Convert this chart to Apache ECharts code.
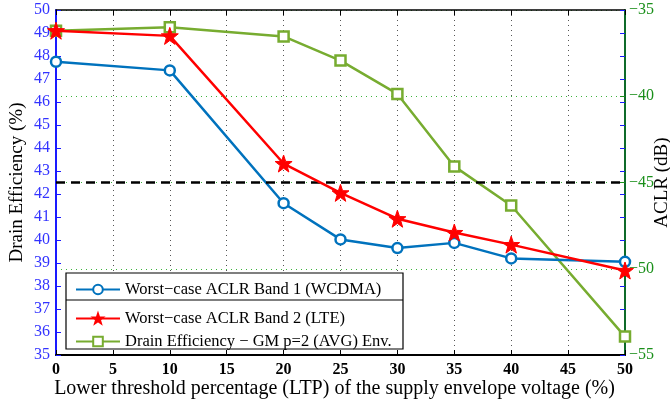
<!DOCTYPE html>
<html>
<head>
<meta charset="utf-8">
<script src="https://cdn.jsdelivr.net/npm/echarts@6/dist/echarts.min.js"></script>
<style>
  html, body { margin: 0; padding: 0; background: #fff; }
  #chart { width: 670px; height: 402px; }
</style>
</head>
<body>
<div id="chart"></div>
<script>
// Lower threshold percentage (LTP) sweep
const ltp = [0, 10, 20, 25, 30, 35, 40, 50];
// Worst-case ACLR (dB), right axis
const aclrWcdma = [-38.0, -38.5, -46.2, -48.3, -48.8, -48.5, -49.4, -49.6];
const aclrLte = [-36.2, -36.5, -43.9, -45.6, -47.1, -47.9, -48.6, -50.1];
// Drain efficiency (%), left axis
const drainEff = [49.1, 49.25, 48.85, 47.8, 46.35, 43.2, 41.5, 35.8];
// ACLR limit line (dB)
const aclrLimit = -45;

const nameWcdma = 'Worst\u2212case ACLR Band 1 (WCDMA)';
const nameLte = 'Worst\u2212case ACLR Band 2 (LTE)';
const nameDe = 'Drain Efficiency \u2212 GM p=2 (AVG) Env.';

const serif = 'Liberation Serif';
const pairs = (ys) => ltp.map((x, i) => [x, ys[i]]);
const minus = (v) => String(v).replace('-', '\u2212');

const chart = echarts.init(document.getElementById('chart'));
chart.setOption({
  animation: false,
  backgroundColor: '#fff',
  grid: { left: 56, right: 45, top: 10, bottom: 47, containLabel: false, outerBoundsMode: 'none' },
  xAxis: [{
    type: 'value', min: 0, max: 50, interval: 5,
    name: 'Lower threshold percentage (LTP) of the supply envelope voltage (%)',
    nameLocation: 'middle', nameGap: 24, nameMoveOverlap: false,
    nameTextStyle: { fontFamily: serif, fontSize: 20, color: '#000', verticalAlign: 'top', padding: [0, 12, 0, 0] },
    axisLine: { onZero: false, lineStyle: { color: '#000', width: 2 } },
    axisTick: { inside: true, length: 5, lineStyle: { color: '#000', width: 1 } },
    axisLabel: { fontFamily: serif, fontSize: 16, fontWeight: 'bold', color: '#000', margin: 7 },
    splitLine: { show: true, lineStyle: { type: [1, 4], color: '#555', width: 1 } }
  }, {
    type: 'value', min: 0, max: 50, interval: 5, position: 'top',
    axisLine: { onZero: false, lineStyle: { color: '#000', width: 1.5 } },
    axisTick: { inside: true, length: 5, lineStyle: { color: '#000' } },
    axisLabel: { show: false }, splitLine: { show: false }
  }],
  yAxis: [{
    type: 'value', min: 35, max: 50, interval: 1, position: 'left',
    name: 'Drain Efficiency (%)', nameLocation: 'middle', nameGap: 39, nameRotate: 90,
    nameMoveOverlap: false,
    nameTextStyle: { fontFamily: serif, fontSize: 19, color: '#000', verticalAlign: 'middle' },
    axisLine: { show: true, onZero: false, lineStyle: { color: '#1a1aff', width: 2 } },
    axisTick: { inside: true, length: 5, lineStyle: { color: '#1a1aff' } },
    axisLabel: { fontFamily: serif, fontSize: 16, color: '#3333ff', margin: 6 },
    splitLine: { show: false }
  }, {
    type: 'value', min: -55, max: -35, interval: 5, position: 'right',
    name: 'ACLR (dB)', nameLocation: 'middle', nameGap: 37, nameRotate: 90,
    nameMoveOverlap: false,
    nameTextStyle: { fontFamily: serif, fontSize: 19, color: '#000', verticalAlign: 'middle' },
    axisLine: { show: true, onZero: false, lineStyle: { color: '#0f6b2a', width: 2 } },
    axisTick: { inside: true, length: 5, lineStyle: { color: '#1a8f1a' } },
    axisLabel: { fontFamily: serif, fontSize: 16, color: '#1a8f1a', margin: 4, formatter: minus },
    splitLine: { show: true, lineStyle: { type: [1, 4], color: '#3cb43c', width: 1 } }
  }, {
    // left-axis ticks mirrored on the right frame
    type: 'value', min: 35, max: 50, interval: 1, position: 'right',
    axisLine: { show: false, onZero: false },
    axisTick: { inside: true, length: 5, lineStyle: { color: '#1a1aff' } },
    axisLabel: { show: false }, splitLine: { show: false }
  }],
  legend: [{
    data: [nameWcdma], z: 60,
    left: 70, top: 276, orient: 'vertical',
    itemWidth: 44, itemHeight: 12,
    textStyle: { fontFamily: serif, fontSize: 16.5, color: '#000' }
  }, {
    data: [nameLte, nameDe], z: 60,
    left: 70, top: 305, orient: 'vertical', itemGap: 6,
    itemWidth: 44, itemHeight: 12,
    textStyle: { fontFamily: serif, fontSize: 16.5, color: '#000' }
  }],
  graphic: [
    { type: 'rect', shape: { x: 66, y: 273, width: 337, height: 76 },
      style: { fill: '#fff', stroke: '#000', lineWidth: 1.2 }, z: 50 },
    { type: 'line', shape: { x1: 66, y1: 300, x2: 403, y2: 300 },
      style: { stroke: '#000', lineWidth: 1.2 }, z: 51 }
  ],
  series: [{
    name: nameDe, type: 'line', xAxisIndex: 0, yAxisIndex: 0,
    data: pairs(drainEff),
    symbol: 'rect', symbolSize: 10,
    lineStyle: { color: '#77ac30', width: 2.5 },
    itemStyle: { color: '#fff', borderColor: '#77ac30', borderWidth: 2.5 },
    color: '#77ac30', z: 3
  }, {
    name: nameWcdma, type: 'line', xAxisIndex: 0, yAxisIndex: 1,
    data: pairs(aclrWcdma),
    symbol: 'circle', symbolSize: 10,
    lineStyle: { color: '#0072bd', width: 2.5 },
    itemStyle: { color: '#fff', borderColor: '#0072bd', borderWidth: 2.5 },
    color: '#0072bd', z: 4,
    markLine: {
      silent: true, symbol: 'none', label: { show: false },
      lineStyle: { color: '#000', type: [9, 6], width: 2.5 },
      data: [{ yAxis: aclrLimit }]
    }
  }, {
    name: nameLte, type: 'line', xAxisIndex: 0, yAxisIndex: 1,
    data: pairs(aclrLte),
    symbol: 'path://M0,-10 L2.35,-3.24 L9.51,-3.09 L3.8,1.24 L5.88,8.09 L0,4 L-5.88,8.09 L-3.8,1.24 L-9.51,-3.09 L-2.35,-3.24 Z',
    symbolSize: 17,
    lineStyle: { color: '#ff0000', width: 2.5 },
    itemStyle: { color: '#ff0000', borderColor: '#ff0000', borderWidth: 1 },
    color: '#ff0000', z: 5
  }]
});
</script>
</body>
</html>
